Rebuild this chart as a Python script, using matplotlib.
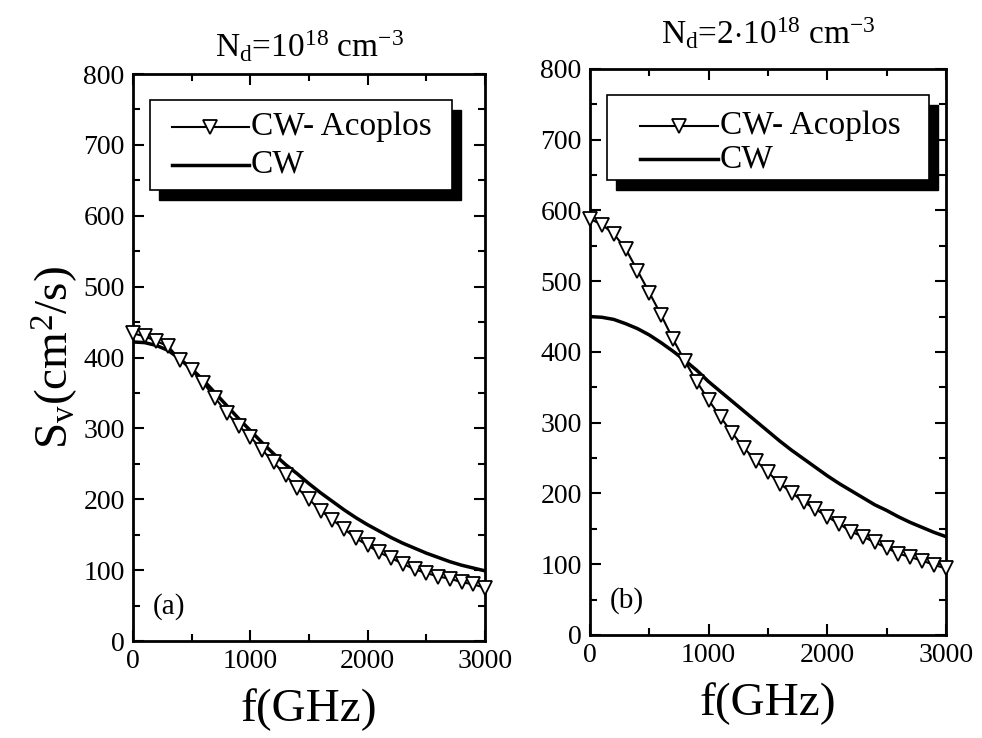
import matplotlib
matplotlib.use("Agg")
import matplotlib.pyplot as plt
from matplotlib.patches import Rectangle
from matplotlib.lines import Line2D
from matplotlib.ticker import MultipleLocator

plt.rcParams['font.family'] = ['Liberation Serif', 'DejaVu Serif']
plt.rcParams['mathtext.fontset'] = 'custom'
plt.rcParams['mathtext.rm'] = 'Liberation Serif'
plt.rcParams['mathtext.it'] = 'Liberation Serif:italic'
plt.rcParams['mathtext.bf'] = 'Liberation Serif:bold'

freq = [0, 100, 200, 300, 400, 500, 600, 700, 800, 900, 1000,
        1100, 1200, 1300, 1400, 1500, 1600, 1700, 1800, 1900, 2000,
        2100, 2200, 2300, 2400, 2500, 2600, 2700, 2800, 2900, 3000]

# Panel (a): Nd = 1e18
a_acoplos = [434, 430, 423, 416, 397, 382, 364, 343, 322, 304, 288,
             270, 252, 234, 216, 200, 184, 171, 158, 145, 135,
             125, 117, 109, 101, 96, 91, 88, 83, 80, 75]
a_cw = [422, 421, 417, 410, 398, 384, 368, 350, 332, 314, 297,
        280, 264, 249, 236, 222, 209, 197, 185, 174, 164,
        155, 146, 138, 131, 124, 118, 112, 107, 103, 99]

# Panel (b): Nd = 2e18
b_acoplos = [588, 580, 567, 546, 515, 484, 452, 418, 387, 358, 332,
             308, 285, 264, 246, 230, 214, 201, 188, 178, 167,
             157, 146, 139, 131, 123, 115, 110, 105, 99, 94]
b_cw = [450, 449, 446, 440, 433, 424, 413, 401, 388, 374, 358,
        344, 330, 316, 302, 288, 274, 261, 249, 237, 225,
        214, 204, 194, 184, 176, 167, 159, 152, 145, 139]

xticks = [0, 1000, 2000, 3000]
yticks = [0, 100, 200, 300, 400, 500, 600, 700, 800]
titles = [r'N$_\mathrm{d}$=10$^{18}$ cm$^{\mathrm{-3}}$', r'N$_\mathrm{d}$=2$\cdot$10$^{18}$ cm$^{\mathrm{-3}}$']
panel_labels = ['(a)', '(b)']
legend_labels = ['CW- Acoplos', 'CW']

fig = plt.figure(figsize=(9.82, 7.38), dpi=100)
axA = fig.add_axes([0.1354, 0.1314, 0.3585, 0.7683])
axB = fig.add_axes([0.6008, 0.1396, 0.3625, 0.767])

def style(ax):
    ax.set_xlim(0, 3000)
    ax.set_ylim(0, 800)
    ax.set_xticks(xticks)
    ax.set_yticks(yticks)
    ax.xaxis.set_minor_locator(MultipleLocator(500))
    ax.yaxis.set_minor_locator(MultipleLocator(50))
    ax.tick_params(which='both', direction='in', top=True, right=True, width=1.5)
    ax.tick_params(which='major', length=8, labelsize=20, pad=6)
    ax.tick_params(which='minor', length=5)
    for s in ax.spines.values():
        s.set_linewidth(2)
    ax.set_xlabel('f(GHz)', fontsize=34, labelpad=10)

def legend(ax, box, line_x, text_x, ys):
    x0, y0, w, h = box
    ax.add_patch(Rectangle((x0 + 0.025, y0 - 0.018), w, h, transform=ax.transAxes,
                           facecolor='black', edgecolor='black', zorder=5))
    ax.add_patch(Rectangle((x0, y0), w, h, transform=ax.transAxes,
                           facecolor='white', edgecolor='black', linewidth=1.2, zorder=6))
    l1 = Line2D(line_x, [ys[0], ys[0]], transform=ax.transAxes, color='black', lw=1.5, zorder=7)
    ax.add_line(l1)
    m1 = Line2D([sum(line_x) / 2], [ys[0]], transform=ax.transAxes, marker='v', ms=10,
                mfc='white', mec='black', mew=1.3, ls='none', zorder=8)
    ax.add_line(m1)
    l2 = Line2D(line_x, [ys[1], ys[1]], transform=ax.transAxes, color='black', lw=2.5, zorder=7)
    ax.add_line(l2)
    for y, lab in zip(ys, legend_labels):
        ax.text(text_x, y, lab, transform=ax.transAxes, fontsize=24, va='center',
                ha='left', zorder=8)

for ax, acop, cw, title, plab in [(axA, a_acoplos, a_cw, titles[0], panel_labels[0]),
                                  (axB, b_acoplos, b_cw, titles[1], panel_labels[1])]:
    ax.plot(freq, cw, color='black', lw=2.5, zorder=3)
    ax.plot(freq, acop, color='black', lw=1.5, marker='v', ms=10, mfc='white',
            mec='black', mew=1.3, zorder=4, clip_on=False)
    style(ax)
    ax.text(0.055, 0.06, plab, transform=ax.transAxes, fontsize=21, va='center')

axA.set_title(titles[0], fontsize=24, pad=12)
axB.set_title(titles[1], fontsize=24, pad=18)
axA.set_ylabel(r'S$_\mathrm{v}$(cm$^2$/s)', fontsize=34, labelpad=2)

legend(axA, (0.048, 0.795, 0.858, 0.159), (0.11, 0.33), 0.335, (0.907, 0.84))
legend(axB, (0.048, 0.804, 0.905, 0.15), (0.14, 0.36), 0.365, (0.90, 0.84))

fig.savefig('out.png', dpi=100)
